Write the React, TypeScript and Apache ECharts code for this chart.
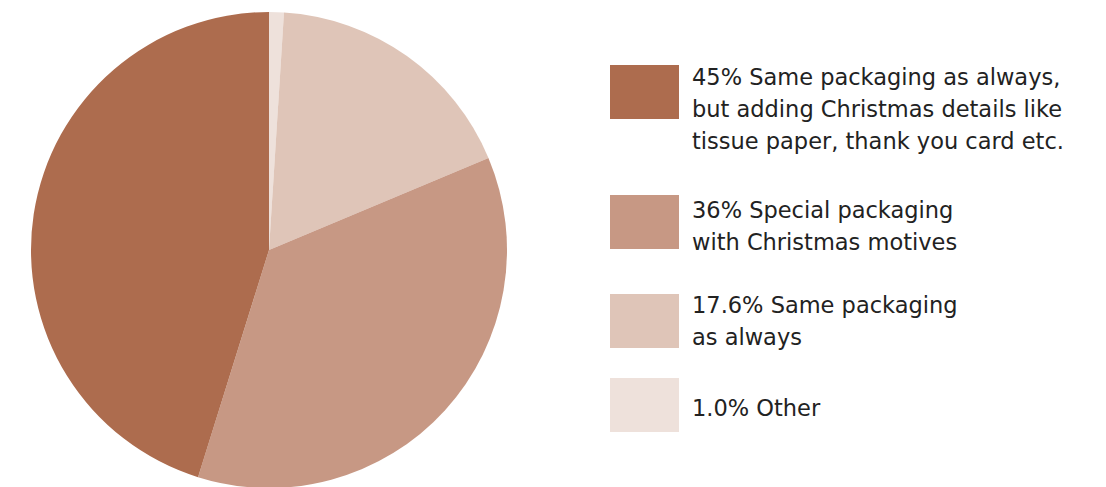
import React, { useEffect, useRef } from "react";
import * as echarts from "echarts";

// Data (clockwise from 12 o'clock)
const categories = [
  "Other",
  "Same packaging as always",
  "Special packaging with Christmas motives",
  "Same packaging as always, but adding Christmas details like tissue paper, thank you card etc.",
];
const values = [1.0, 17.6, 36, 45];
const colors = ["#EEE1DB", "#DFC5B8", "#C79884", "#AD6C4E"];

// Legend (top to bottom)
const legendLines = [
  ["45% Same packaging as always,", "but adding Christmas details like", "tissue paper, thank you card etc."],
  ["36% Special packaging", "with Christmas motives"],
  ["17.6% Same packaging", "as always"],
  ["1.0% Other"],
];
const legendColorIndex = [3, 2, 1, 0];

// layout
const legendSquareTops = [65, 195, 294, 378];
const legendTextOffsets = [-4, -1, -5, 14];

export default function App() {
  const ref = useRef<HTMLDivElement>(null);
  useEffect(() => {
    document.body.style.margin = "0";
    if (!ref.current) return;
    const chart = echarts.init(ref.current, undefined, { renderer: "svg" });
    const graphics: any[] = [];
    legendLines.forEach((lines, i) => {
      const top = legendSquareTops[i];
      graphics.push({
        type: "rect",
        shape: { x: 610, y: top, width: 69, height: 54 },
        style: { fill: colors[legendColorIndex[i]] },
      });
      graphics.push({
        type: "text",
        x: 692,
        y: top + legendTextOffsets[i],
        style: {
          text: lines.join("\n"),
          fill: "#222222",
          font: '22.5px "DejaVu Sans"',
          lineHeight: 32,
          textBaseline: "top",
          textAlign: "left",
        },
      });
    });
    chart.setOption({
      animation: false,
      backgroundColor: "#ffffff",
      series: [
        {
          type: "pie",
          center: [269, 250],
          radius: [0, 238],
          startAngle: 90,
          clockwise: true,
          label: { show: false },
          labelLine: { show: false },
          itemStyle: { borderWidth: 0 },
          data: categories.map((name, i) => ({
            name,
            value: values[i],
            itemStyle: { color: colors[i] },
          })),
        },
      ],
      graphic: graphics,
    });
    return () => chart.dispose();
  }, []);
  return <div ref={ref} style={{ width: 1106, height: 487 }} />;
}
